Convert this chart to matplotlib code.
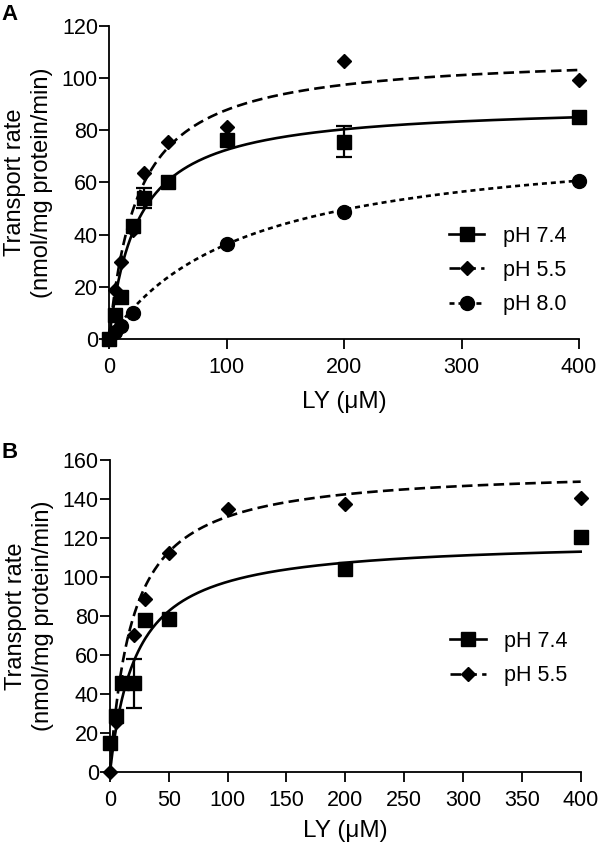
import numpy as np
import matplotlib
matplotlib.use('Agg')
import matplotlib.pyplot as plt

plt.rcParams['font.family'] = ['Liberation Sans', 'DejaVu Sans']

# Panel A data
conc_a = [0, 5, 10, 20, 30, 50, 100, 200, 400]
ph74_a = [0, 9.2, 16.2, 43.5, 54.0, 60.0, 76.3, 75.7, 85.0]
ph74_a_err = [0, 0, 0, 0, 3.7, 0, 0, 5.9, 0]
ph55_a = [0, 18.8, 29.6, 41.8, 63.8, 75.7, 81.4, 106.6, 99.3]
ph80_a = [0, 2.5, 4.8, 9.8, None, None, 36.3, 48.8, 60.7]

# Michaelis-Menten fit parameters (Vmax, Km)
fit_a = {'pH 7.4': (90.2, 24.4), 'pH 5.5': (109.5, 24.7), 'pH 8.0': (78.2, 115.5)}

# Panel B data
conc_b = [0, 5, 10, 20, 30, 50, 100, 200, 400]
ph74_b = [14.8, 28.8, 45.6, 45.6, 78.0, 78.4, None, 104.0, 120.4]
ph74_b_err = [0, 0, 0, 12.6, 0, 0, 0, 0, 0]
ph55_b = [0, 25.9, 46.4, 70.3, 88.6, 112.2, 134.7, 137.3, 140.4]
fit_b = {'pH 7.4': (119.3, 22.2), 'pH 5.5': (156.0, 19.1)}

styles = {
    'pH 7.4': dict(marker='s', ms=10, ls='-', dashes=None),
    'pH 5.5': dict(marker='D', ms=7.3, ls='--', dashes=(4, 2)),
    'pH 8.0': dict(marker='o', ms=10, ls=':', dashes=(1.9, 1.5)),
}


def mm(x, vmax, km):
    return vmax * x / (km + x)


def draw_panel(ax, conc, series, errs, fits, yticks, xticks, legend_xy, xlabelpad):
    xs = np.linspace(0, 400, 400)
    handles = []
    for name, vals in series.items():
        st = styles[name]
        vmax, km = fits[name]
        line, = ax.plot(xs, mm(xs, vmax, km), color='black', lw=1.9, ls=st['ls'],
                        clip_on=False)
        if st['dashes']:
            line.set_dashes(st['dashes'])
        px = [c for c, v in zip(conc, vals) if v is not None]
        py = [v for v in vals if v is not None]
        ax.plot(px, py, ls='none', marker=st['marker'], ms=st['ms'], color='black',
                clip_on=False, zorder=4)
        if name in errs:
            e = errs[name]
            ex = [c for c, v, d in zip(conc, vals, e) if v is not None and d > 0]
            ey = [v for v, d in zip(vals, e) if v is not None and d > 0]
            ed = [d for v, d in zip(vals, e) if v is not None and d > 0]
            ax.errorbar(ex, ey, yerr=ed, fmt='none', ecolor='black', elinewidth=1.6,
                        capsize=5.8, capthick=1.6, clip_on=False)
        h, = ax.plot([], [], color='black', lw=1.9, ls=st['ls'], marker=st['marker'],
                     ms=st['ms'])
        if st['dashes']:
            h.set_dashes(st['dashes'])
        handles.append(h)

    ax.set_xlim(0, 400)
    ax.set_ylim(0, yticks[-1])
    ax.set_xticks(xticks)
    ax.set_yticks(yticks)
    for s in ['top', 'right']:
        ax.spines[s].set_visible(False)
    for s in ['left', 'bottom']:
        ax.spines[s].set_linewidth(1.3)
    ax.tick_params(axis='y', direction='out', length=7, width=1.3, labelsize=15.5, pad=1)
    ax.tick_params(axis='x', direction='out', length=7, width=1.3, labelsize=15.5, pad=6)
    ax.set_xlabel('LY (\u03bcM)', fontsize=17.5, labelpad=xlabelpad)
    ax.set_ylabel('Transport rate\n(nmol/mg protein/min)', fontsize=17, labelpad=6,
                  linespacing=1.3)
    ax.legend(handles, list(series.keys()), loc='upper left', frameon=False,
              bbox_to_anchor=legend_xy, fontsize=15.5, handlelength=1.65,
              handletextpad=0.85, labelspacing=0.62, borderaxespad=0)


fig = plt.figure(figsize=(6, 8.46), dpi=100)
ax_a = fig.add_axes([0.1817, 0.5993, 0.7833, 0.370])
ax_b = fig.add_axes([0.1833, 0.0871, 0.7845, 0.3692])

draw_panel(ax_a, conc_a,
           {'pH 7.4': ph74_a, 'pH 5.5': ph55_a, 'pH 8.0': ph80_a},
           {'pH 7.4': ph74_a_err}, fit_a,
           [0, 20, 40, 60, 80, 100, 120], [0, 100, 200, 300, 400], (0.705, 0.39), 9)
draw_panel(ax_b, conc_b,
           {'pH 7.4': ph74_b, 'pH 5.5': ph55_b},
           {'pH 7.4': ph74_b_err}, fit_b,
           [0, 20, 40, 60, 80, 100, 120, 140, 160],
           [0, 50, 100, 150, 200, 250, 300, 350, 400], (0.705, 0.48), 6)

fig.text(0.003, 0.995, 'A', fontsize=16, fontweight='bold', va='top')
fig.text(0.003, 0.478, 'B', fontsize=16, fontweight='bold', va='top')

fig.savefig('out.png', dpi=100)
